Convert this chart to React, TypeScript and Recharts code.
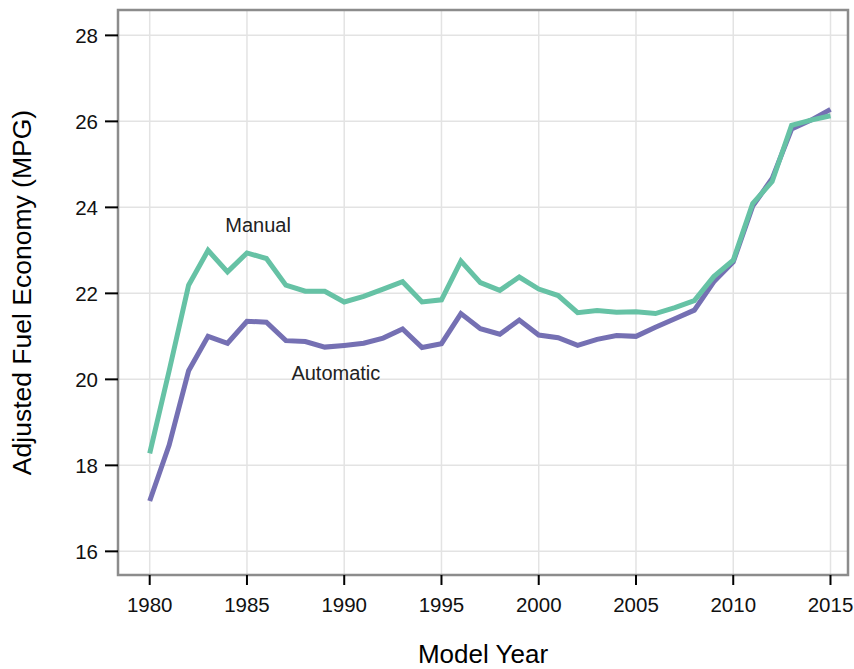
import { LineChart, Line, XAxis, YAxis, CartesianGrid, ReferenceArea, ReferenceDot } from 'recharts';

const FONT = '"Liberation Sans", Arial, Helvetica, sans-serif';

const years = [
    1980, 1981, 1982, 1983, 1984, 1985, 1986, 1987, 1988, 1989,
    1990, 1991, 1992, 1993, 1994, 1995, 1996, 1997, 1998, 1999,
    2000, 2001, 2002, 2003, 2004, 2005, 2006, 2007, 2008, 2009,
    2010, 2011, 2012, 2013, 2014, 2015,
];

const manual = [
    18.28, 20.2, 22.19, 23.0, 22.5, 22.94, 22.81, 22.19, 22.05, 22.05,
    21.8, 21.93, 22.1, 22.27, 21.8, 21.85, 22.75, 22.25, 22.07, 22.38,
    22.1, 21.95, 21.55, 21.6, 21.56, 21.57, 21.53, 21.67, 21.83, 22.39,
    22.77, 24.09, 24.6, 25.91, 26.03, 26.13,
];

const automatic = [
    17.17, 18.47, 20.2, 21.0, 20.84, 21.35, 21.33, 20.9, 20.88, 20.75,
    20.79, 20.84, 20.96, 21.17, 20.74, 20.83, 21.53, 21.18, 21.05, 21.38,
    21.03, 20.97, 20.79, 20.93, 21.02, 21.0, 21.21, 21.41, 21.61, 22.27,
    22.73, 24.03, 24.67, 25.82, 26.03, 26.28,
];

const xTicks = [1980, 1985, 1990, 1995, 2000, 2005, 2010, 2015];
const yTicks = [16, 18, 20, 22, 24, 26, 28];
const xDomain = [1978.37, 2015.9];
const yDomain = [15.45, 28.59];

// series name labels, placed in data units
const seriesLabels = [
    { name: 'Manual', year: 1985.57, value: 23.6 },
    { name: 'Automatic', year: 1989.57, value: 20.16 },
];

const data = years.map((year, i) => ({
    year,
    manual: manual[i],
    automatic: automatic[i],
}));

const YTitle = (props: any) => {
    const vb = props.viewBox || { x: 0, y: 10, width: 118, height: 565 };
    const cx = vb.x + 22;
    const cy = vb.y + vb.height / 2;
    return (
        <text
            x={cx}
            y={cy}
            transform={`rotate(-90 ${cx} ${cy})`}
            textAnchor="middle"
            dominantBaseline="central"
            fontFamily={FONT}
            fontSize={26.5}
            fill="#000"
        >
            Adjusted Fuel Economy (MPG)
        </text>
    );
};

const XTitle = (props: any) => {
    const vb = props.viewBox || { x: 118, y: 575, width: 730, height: 94 };
    return (
        <text
            x={vb.x + vb.width / 2}
            y={vb.y + 88}
            textAnchor="middle"
            fontFamily={FONT}
            fontSize={26}
            fill="#000"
        >
            Model Year
        </text>
    );
};

export default function App() {
    return (
        <div style={{ position: 'absolute', left: 0, top: 0, background: '#fff' }}>
            <LineChart
                width={854}
                height={669}
                data={data}
                margin={{ top: 10, right: 6, bottom: 0, left: 0 }}
            >
                <CartesianGrid stroke="#e3e3e3" strokeWidth={1.5} />
                <XAxis
                    type="number"
                    dataKey="year"
                    domain={xDomain}
                    ticks={xTicks}
                    allowDataOverflow
                    height={94}
                    axisLine={false}
                    tickSize={10}
                    tickMargin={12}
                    tickLine={{ stroke: '#000', strokeWidth: 2 }}
                    tick={{ fill: '#111', fontSize: 20.5, fontFamily: FONT }}
                    label={<XTitle />}
                />
                <YAxis
                    type="number"
                    domain={yDomain}
                    ticks={yTicks}
                    allowDataOverflow
                    width={118}
                    axisLine={false}
                    tickSize={13}
                    tickMargin={7}
                    tickLine={{ stroke: '#000', strokeWidth: 2 }}
                    tick={{ fill: '#111', fontSize: 20.5, fontFamily: FONT }}
                    label={<YTitle />}
                />
                <ReferenceArea
                    x1={xDomain[0]}
                    x2={xDomain[1]}
                    y1={yDomain[0]}
                    y2={yDomain[1]}
                    fill="none"
                    stroke="#8c8c8c"
                    strokeWidth={2.5}
                    ifOverflow="visible"
                />
                <Line
                    type="linear"
                    dataKey="automatic"
                    stroke="#7570b3"
                    strokeWidth={5}
                    dot={false}
                    activeDot={false}
                    isAnimationActive={false}
                />
                <Line
                    type="linear"
                    dataKey="manual"
                    stroke="#66c2a5"
                    strokeWidth={5}
                    dot={false}
                    activeDot={false}
                    isAnimationActive={false}
                />
                {seriesLabels.map((s) => (
                    <ReferenceDot
                        key={s.name}
                        x={s.year}
                        y={s.value}
                        r={0}
                        fill="none"
                        stroke="none"
                        label={{
                            value: s.name,
                            position: 'center',
                            fill: '#222',
                            fontSize: 20,
                            fontFamily: FONT,
                        }}
                    />
                ))}
            </LineChart>
        </div>
    );
}
